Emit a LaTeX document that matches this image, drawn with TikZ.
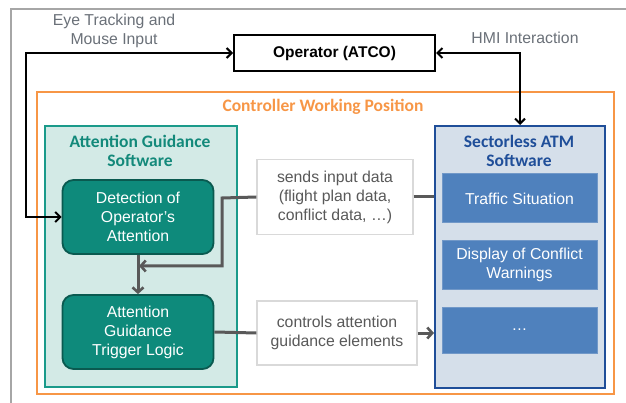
\documentclass[tikz,border=0pt]{standalone}
\usepackage{fontspec}
\setmainfont{Liberation Sans}
\newfontfamily\titlefont{Carlito}
\usetikzlibrary{arrows.meta,calc}
\definecolor{framegray}{HTML}{A6A6A6}
\definecolor{labelgray}{HTML}{6A7078}
\definecolor{linegray}{HTML}{595959}
\definecolor{cwporange}{HTML}{F79646}
\definecolor{agsfill}{HTML}{D3EAE6}
\definecolor{agsdraw}{HTML}{1A9A8A}
\definecolor{agstext}{HTML}{13897A}
\definecolor{modfill}{HTML}{0E8A7B}
\definecolor{moddraw}{HTML}{0A5A50}
\definecolor{atmfill}{HTML}{D5DFEA}
\definecolor{atmdraw}{HTML}{1F4E99}
\definecolor{atmtext}{HTML}{1F4E99}
\definecolor{itemfill}{HTML}{4F81BD}
\definecolor{itemdraw}{HTML}{7198C8}
\definecolor{notedraw}{HTML}{D9D9D9}
\tikzset{
  x=1pt, y=-1pt,
  bodytext/.style={font=\fontsize{15.8}{19}\selectfont, align=center},
  titletext/.style={font=\titlefont\bfseries\fontsize{17.5}{19.5}\selectfont, align=center},
  group/.style={draw, line width=2pt, anchor=north west, inner sep=0pt},
  module/.style={rounded corners=11pt, draw=moddraw, fill=modfill, line width=1.8pt,
    minimum width=151pt, minimum height=74pt, text=white, bodytext},
  note/.style={draw=notedraw, fill=white, line width=1.2pt, text=linegray, bodytext},
  item/.style={draw=itemdraw, fill=itemfill, line width=1pt, text=white, bodytext,
    minimum width=155pt},
  blackflow/.style={draw=black, line width=2.2pt,
    {Straight Barb[length=5pt,width=10pt,line width=2pt]}-{Straight Barb[length=5pt,width=10pt,line width=2pt]}},
  grayflow/.style={draw=linegray, line width=3pt},
  graytip/.style={-{Straight Barb[length=5pt,width=11pt,line width=2.6pt]}},
}
\begin{document}
\begin{tikzpicture}
\useasboundingbox (0,0) rectangle (626,403);
% outer frame (page border)
\draw[framegray, line width=1.5pt] (11,410) -- (11,9) -- (640,9);

% operator
\node[draw=black, line width=2pt, minimum width=201pt, minimum height=36pt,
  font=\fontsize{15.5}{18}\selectfont\bfseries] (op) at (334.5,53) {Operator (ATCO)};

% controller working position
\node[group, draw=cwporange, minimum width=577pt, minimum height=302pt] (cwp) at (36,91) {};
\node[titletext, text=cwporange] (cwpt) at (323,107) {Controller Working Position};

% attention guidance software
\node[group, draw=agsdraw, fill=agsfill, minimum width=192pt, minimum height=261pt] (ags) at (44,125) {};
\node[titletext, text=agstext] (agst) at (140,151) {Attention Guidance\\Software};
\node[module] (det) at (138,217) {Detection of\\Operator's\\Attention};
\node[module] (trig) at (138,332) {Attention\\Guidance\\Trigger Logic};

% sectorless ATM software
\node[group, draw=atmdraw, fill=atmfill, minimum width=170pt, minimum height=262pt] (atm) at (434,125) {};
\node[titletext, text=atmtext] (atmt) at (519,151) {Sectorless ATM\\Software};
\node[item, minimum height=49pt] (traffic) at (519.5,198.5) {Traffic Situation};
\node[item, minimum height=48pt] (display) at (519.5,265) {Display of Conflict\\Warnings};
\node[item, minimum height=46pt] (more) at (519.5,330) {\textellipsis};

% data flow notes
\node[note, minimum width=156pt, minimum height=75pt] (sends) at (335,197)
  {sends input data\\(flight plan data,\\conflict data, \textellipsis)};
\node[note, minimum width=160pt, minimum height=64pt] (ctrl) at (337,333)
  {controls attention\\guidance elements};

% labels of the operator links
\node[bodytext, text=labelgray] (eyelbl) at (114,31) {Eye Tracking and\\Mouse Input};
\node[bodytext, text=labelgray] (hmilbl) at (525,38) {HMI Interaction};

% operator links
\coordinate (eyecorner) at (26,53);
\draw[blackflow] (op.west) -- (eyecorner) |- (det.west);
\draw[blackflow] (op.east) -| (atm.north);

% internal flow
\coordinate (sendsjoint) at (222,198);
\coordinate (sendsend) at (139,266);
\draw[grayflow] (sends.east) -- (sends.east -| atm.west);
\draw[grayflow, graytip] (sends.west) -- (sendsjoint) |- (sendsend);
\draw[grayflow, graytip] (det.south) -- (trig.north);
\draw[grayflow] (trig.east) -- (ctrl.west);
\draw[grayflow, graytip] (ctrl.east) -- (ctrl.east -| atm.west);
\end{tikzpicture}
\end{document}
